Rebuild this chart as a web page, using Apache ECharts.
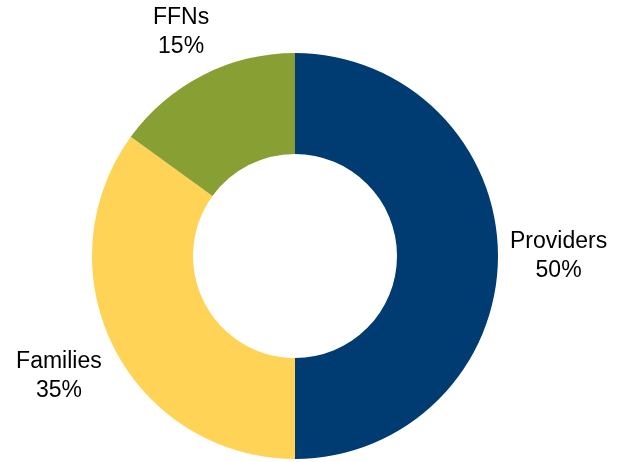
<!DOCTYPE html>
<html>
<head>
<meta charset="utf-8">
<script src="https://cdn.jsdelivr.net/npm/echarts@6/dist/echarts.min.js"></script>
<style>
  html, body { margin: 0; padding: 0; background: #fff; }
  #chart { width: 623px; height: 462px; }
</style>
</head>
<body>
<div id="chart"></div>
<script>
const categories = ["Providers", "Families", "FFNs"];
const shares = [50, 35, 15];
const colors = ["#003B71", "#FFD355", "#88A033"];

const CX = 295, CY = 256, R_IN = 102, R_OUT = 203;
const total = shares.reduce((a, b) => a + b, 0);

// mid angle of each slice, clockwise from 12 o'clock
function midAngle(i) {
  let before = 0;
  for (let k = 0; k < i; k++) before += shares[k];
  return ((before + shares[i] / 2) / total) * Math.PI * 2;
}

const chart = echarts.init(document.getElementById("chart"));
chart.setOption({
  animation: false,
  textStyle: { fontFamily: "Liberation Sans, Arial, sans-serif" },
  series: [{
    type: "pie",
    center: [CX, CY],
    radius: [R_IN, R_OUT],
    startAngle: 90,
    clockwise: true,
    avoidLabelOverlap: false,
    silent: true,
    data: categories.map((name, i) => ({
      name,
      value: shares[i],
      itemStyle: { color: colors[i] },
    })),
    label: {
      show: true,
      position: "outside",
      formatter: "{a|{b}}\n{a|{c}%}",
      rich: {
        a: { fontSize: 23, lineHeight: 29, color: "#000", align: "center", fontFamily: "Liberation Sans, Arial, sans-serif" },
      },
    },
    labelLine: { show: false },
    labelLayout(params) {
      const a = midAngle(params.dataIndex);
      const dx = Math.sin(a), dy = -Math.cos(a);
      const hw = params.labelRect.width / 2, hh = params.labelRect.height / 2;
      const d = R_OUT + 12 + Math.abs(dx) * hw + Math.abs(dy) * hh;
      return { x: CX + dx * d, y: CY + dy * d, align: "center", verticalAlign: "middle" };
    },
  }],
});
</script>
</body>
</html>
